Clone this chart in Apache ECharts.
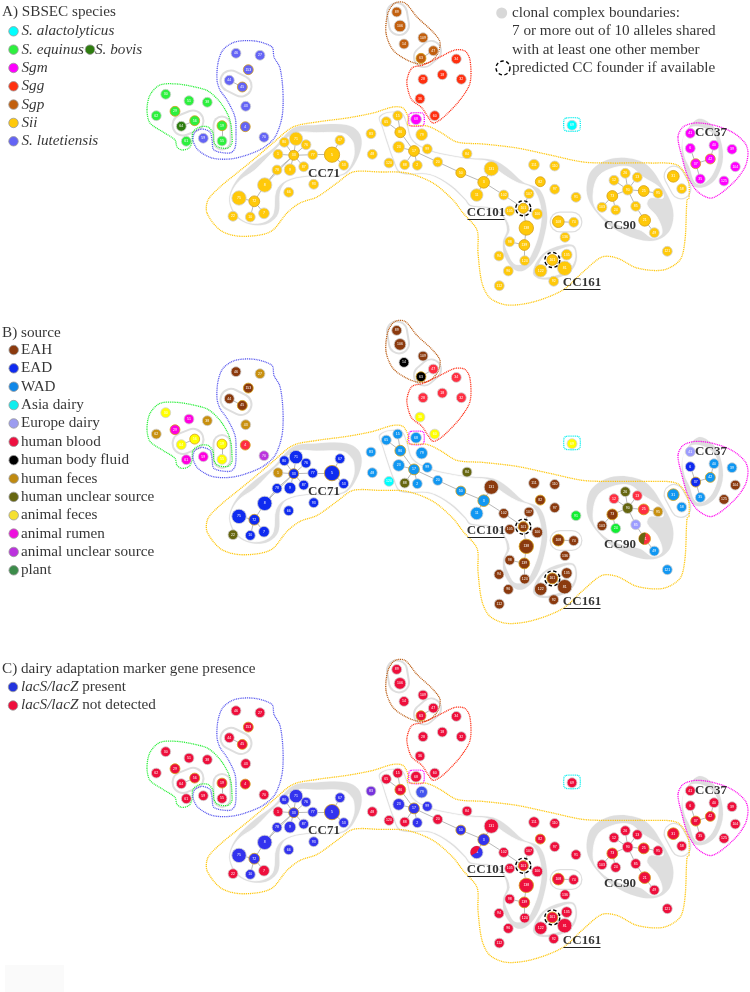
<!DOCTYPE html>
<html><head><meta charset="utf-8">
<style>html,body{margin:0;padding:0;background:#fff}#c{width:750px;height:992px}</style>
<script src="https://cdn.jsdelivr.net/npm/echarts@6/dist/echarts.min.js"></script></head>
<body><div id="c"></div>
<script>
// ---------- data ----------
const nodeIds=[30,51,38,62,29,56,64,19,61,55,
46,27,153,44,45,43,4,70,59,
89,106,14,109,47,63,
34,18,28,32,36,60,
68,
80,71,76,1,33,77,5,67,53,87,9,78,8,93,66,75,72,7,22,10,
83,48,65,15,86,79,23,17,99,120,88,2,20,50,84,
131,3,11,102,111,110,82,97,91,107,105,101,100,108,74,138,98,139,136,135,161,122,81,124,94,96,112,92,
12,26,13,90,25,95,73,103,24,85,21,49,
31,58,121,
41,6,40,39,37,42,35,104,125,
69];
const nodeX=[165.7,189,207.3,156.3,175,194.7,181.3,222,186.3,222,
236,260,248.3,229.3,242.3,245.7,245.3,264,203.3,
396.7,400,404,423,433.3,421,
456.3,442.3,423,461.3,420,434.7,
416,
284.3,296,306,278,293.7,312.7,332,340,343.7,303.7,290,277,264.7,313.7,288.7,239,254.3,264,233,250.3,
371,372.3,386.3,397.7,400.3,421.7,398.7,414,427.3,389,404.7,417.3,437.7,460.8,467,
491.3,483.7,476.7,503.7,534,554.7,540.3,554.7,576,529,509.7,523.3,537.3,558.3,573.7,526.3,509.7,524.3,565,566.7,552.3,540.7,564.7,524.7,499,508.3,499.3,553.7,
614,625.3,637.3,627.7,643.7,658,612.3,602,615.7,635.7,644.7,654.3,
673.3,681.7,667.3,
690.3,690.3,714,732,695.7,710.3,700.3,735.3,724,
572];
const nodeY=[94.3,100.7,102.3,115.7,111.3,120.7,126.3,125.7,141.3,141,
53.3,55.3,69.7,80.3,87,106.3,126.7,137.3,138.3,
12,26,44,37.7,50.7,58.3,
59,74.7,79.3,79.3,98.7,115.7,
119.3,
142.3,138.7,144.7,154.3,155.3,154.7,154.7,140.3,165.3,166.7,169.7,170,185,184.3,192.3,198,201.3,213.3,216.3,217,
133.7,154.3,121.7,115.7,132.3,134.7,147,151,149,163,164.7,165.3,162,172.7,153.7,
168.7,182.3,195,195,164.7,166,181.7,189.3,197.3,193.7,211,208.3,214,221.7,222.3,228,241.7,245,237.3,254.7,260,270.7,268.3,260.7,256,271,285.7,281.3,
180.3,173.3,177.3,189.7,191,193.3,196,207.3,210,206.3,220.3,232.7,
176.3,188.7,251.3,
133.3,148.3,145.3,149.3,163.7,159,179,166.7,181,
125.3];
// isolate weight class per node
const nodeWeight=[1,1,1,1,1,1,1,1,1,1,
1,1,1,1,1,1,1,1,1,
1,3,1,1,1,1,
1,1,1,1,1,1,
2,
1,5,1,1,1,1,7,1,1,1,3,1,6,1,1,6,2,2,1,1,
1,1,1,1,2,3,3,2,1,1,1,1,1,1,1,
6,3,4,1,2,1,1,1,1,1,1,1,2,3,1,6,1,2,1,2,2,4,6,1,1,1,1,1,
1,1,1,2,2,1,2,1,1,1,3,1,
3,1,1,
1,1,1,1,1,1,1,1,1,
1];
const nodeSpecies=[1,1,1,1,1,1,2,1,1,1,
7,7,7,7,7,7,7,7,7,
5,5,5,5,5,5,
4,4,4,4,4,4,
3,
6,6,6,6,6,6,6,6,6,6,6,6,6,6,6,6,6,6,6,6,
6,6,6,6,6,6,6,6,6,6,6,6,6,6,6,
6,6,6,6,6,6,6,6,6,6,6,6,6,6,6,6,6,6,6,6,6,6,6,6,6,6,6,6,
6,6,6,6,6,6,6,6,6,6,6,6,
6,6,6,
3,3,3,3,3,3,3,3,3,
0];
const nodeSource=[9,10,7,7,10,9,9,9,10,9,
0,7,0,0,0,7,5,11,10,
0,0,6,0,5,6,
5,5,5,5,9,9,
2,
1,1,1,7,1,1,1,1,1,1,1,1,1,1,1,1,1,1,8,1,
2,2,2,2,2,2,2,2,2,3,8,2,2,2,8,
0,2,2,0,0,0,0,0,12,0,0,0,0,0,0,0,0,0,0,0,0,0,0,0,0,0,0,0,
5,8,5,8,5,7,0,0,12,4,5,2,
2,2,2,
4,1,2,2,1,2,2,0,0,
9];
const nodeMarker=[0,0,0,0,0,0,0,0,0,0,
0,0,0,0,0,0,0,0,0,
0,0,0,0,0,0,
0,0,0,0,0,0,
0,
1,1,1,0,1,1,1,1,1,1,1,1,1,1,1,1,1,0,0,1,
2,0,0,0,0,3,1,1,1,0,0,1,0,1,0,
0,1,1,0,0,0,0,0,0,0,0,0,0,0,0,0,0,0,0,0,0,0,0,0,0,0,0,0,
0,0,0,0,0,0,0,0,0,0,0,0,
0,0,0,
0,0,0,0,0,0,0,0,0,
0];
const goldRing=[29,56,19,153,45,4,63,33,5,72,86,17,50,3,101,138,139,108,82,73,25,161,31,37,42,21];
const edges=[[64,56],[19,55],[44,45],[47,63],
[33,80],[33,71],[33,76],[33,1],[33,77],[33,87],[33,9],[33,78],[33,8],[78,8],[77,5],[5,67],[5,53],[8,72],[72,75],[72,10],[72,7],
[65,86],[15,86],[86,17],[23,17],[17,88],[17,2],[17,20],[20,50],[50,3],[3,131],[3,11],[3,102],[102,101],[107,101],[105,101],[100,101],[101,138],[138,139],[98,139],[139,124],[108,74],
[161,135],[161,122],[161,81],
[90,12],[90,26],[90,13],[90,25],[25,95],[90,73],[73,103],[73,24],[90,85],[85,21],[21,49],
[6,37],[37,42],[42,40],[37,35]];
const founders=[101,161];
const speciesLabels=['{i|S. alactolyticus}','{i|S. equinus}','{i|Sgm}','{i|Sgg}','{i|Sgp}','{i|Sii}','{i|S. lutetiensis}'];
const speciesLegendIdx=[0,1,3,4,5,6,7];
const speciesColors=['#00FFFF','#2DF03E','#2E7D0F','#FF00FF','#FF3010','#C2600F','#FFC90A','#6464F5'];
const sourceLabels=['EAH','EAD','WAD','Asia dairy','Europe dairy','human blood','human body fluid','human feces','human unclear source','animal feces','animal rumen','animal unclear source','plant'];
const sourceColors=['#8B3A0E','#0F2BF0','#1197F2','#00FFFF','#9C9CFF','#FF2F42','#000000','#C8900F','#666610','#FFFF00','#FF00E0','#BB33DD','#11EE33'];
const sourceLegendColors=['#8B3A0E','#0F2BF0','#1188E8','#11EEEE','#9C9CF0','#EE1040','#000000','#C08A10','#666610','#F5E030','#EE10DD','#BB33DD','#3C8C4A'];
const markerLabels=['{i|lacS/lacZ}{n| present}','{i|lacS/lacZ}{n| not detected}'];
const markerColors=['#EE0F3C','#3333EE','#7733DD','#4455EE'];
const markerLegendColors=['#2233DD','#EE0F3C'];
const panelTitles=['A) SBSEC species','B) source','C) dairy adaptation marker gene presence'];
const ccNames=['CC71','CC101','CC90','CC161','CC37'];
const ccPos=[[324,173.5],[486,212.5],[620,226],[582,283],[711,133]];
const ccUnderlines=[[[467.5,219],[504.5,219]],[[563.5,289.5],[600.5,289.5]]];
const noteLines=['clonal complex boundaries:','7 or more out of 10 alleles shared','with at least one other member','predicted CC founder if available'];
// hulls around each species
const hulls=[
{c:'#22EE33',p:[[147,110],[150,95],[160,85],[177,84],[195,87],[208,91],[220,102],[228,115],[231,125],[232,137],[232,143],[228,148],[218,147],[214,142],[213,133],[208,127],[200,127],[193,132],[192,142],[189,148],[182,150],[177,147],[175,140],[163,132],[150,123]]},
{c:'#5555EE',p:[[217,80],[218,63],[223,50],[235,42],[255,41],[272,47],[274,57],[280,68],[283,93],[282,117],[275,137],[263,148],[247,155],[230,159],[212,158],[198,150],[193,140],[195,132],[202,129],[210,132],[212,140],[214,150],[230,153],[235,148],[236,133],[235,117],[227,100],[220,90]]},
{c:'#B8560A',p:[[386,33],[388,13],[395,3],[405,3],[417,17],[433,32],[440,42],[438,53],[430,62],[420,64],[407,60],[393,50]]},
{c:'#FF2A10',p:[[407,80],[412,68],[423,65],[440,57],[455,50],[465,51],[470,60],[470,83],[460,100],[447,114],[440,120],[433,123],[428,117],[422,108],[412,100],[408,90]]},
{c:'#FF00FF',p:[[411,113],[422,113],[424,115],[424,124],[422,126],[411,126],[409,124],[409,115]]},
{c:'#00EEEE',p:[[566,118],[578,118],[580,120],[580,129],[578,131],[566,131],[564,129],[564,120]]},
{c:'#FF00EE',p:[[678,137],[683,127],[695,123],[713,125],[732,132],[745,143],[748,153],[745,167],[733,183],[712,198],[698,192],[688,177],[682,157]]},
{c:'#FFC400',p:[[207,213],[208,200],[220,187],[237,173],[253,160],[273,143],[293,127],[317,122],[347,118],[373,113],[393,107],[403,108],[408,117],[408,125],[427,126],[440,132],[457,142],[483,144],[517,148],[550,155],[583,162],[610,163],[650,163],[677,165],[688,180],[689,198],[687,200],[685,240],[680,260],[663,270],[637,268],[617,258],[602,257],[583,272],[563,290],[533,302],[507,305],[490,298],[482,283],[478,253],[477,230],[463,213],[453,200],[433,183],[407,173],[380,172],[353,172],[337,183],[317,197],[300,203],[287,213],[273,230],[260,235],[237,236],[220,230]]}
];
// clonal complex outlines: grey outer, white inner
const ccBlobs=[
{o:[[229.3,196.7],[236.7,180],[253.3,163.3],[273.3,148.3],[293.3,128.3],[316.7,125],[346.7,125],[358.3,131.7],[361.7,143.3],[356.7,160],[346.7,173.3],[333.3,176.7],[306.7,176.7],[286.7,181.7],[280,191.7],[278.3,213.3],[268.3,223.3],[253.3,225],[240,220],[231.7,210]],
 i:[[230.7,196.7],[238.7,181.7],[255,170],[274.3,150.7],[295,133.3],[316.7,132.7],[343.3,133.3],[351.7,140],[354,146.7],[353.3,158.3],[345.7,171.7],[332.7,175.3],[306.7,175.3],[286,180.3],[276,190.7],[273.3,213.3],[266.7,220.7],[253.3,223.3],[241,218.7],[233,209]]},
{o:[[379,117],[388,112],[402,113],[407,123],[413,140],[430,150],[450,155],[470,158],[493,160],[507,168],[523,182],[540,190],[547,213],[545,233],[537,257],[525,270],[515,270],[505,257],[503,242],[507,230],[503,217],[493,209],[470,206],[465,200],[450,186],[430,175],[400,173],[393,160],[387,143],[382,127]],
 i:[[380.3,118],[388,113.2],[401,114.3],[405.7,123.5],[411.7,141],[429.5,151.3],[450,156.3],[470,159.5],[490,162],[500,172],[516,182],[533,189],[541,210],[539,233],[531,255],[525,263],[515,264],[509,255],[505,242],[510,230],[505,217],[493,207.7],[471,204.7],[466,199],[451,184.7],[430,173.7],[401,171.7],[394.3,159.5],[388.3,142.5],[383.3,127]]},
{o:[[587,183],[592,170],[607,160],[627,158],[647,165],[663,187],[673,210],[670,230],[657,240],[637,239],[613,228],[597,213],[588,198]],
 i:[[593,197],[598,177],[613,168],[630,167],[643,177],[660,188],[663,198],[650,198],[647,205],[657,217],[662,233],[653,238],[640,230],[613,223],[597,210]]},
{o:[[533,273],[540,257],[553,248],[573,245],[577,257],[572,270],[557,278],[540,279]],
 i:[[537,272],[545,255],[556,251],[572,247],[575,257],[570,268],[556,275],[541,277]]},
{o:[[682,143],[687,130],[698,119],[708,122],[718,133],[723,157],[717,177],[707,186],[695,187],[688,177],[683,160]],
 i:[[683,140],[690,128],[703,128],[715,137],[718,157],[712,175],[702,184],[695,182],[690,168],[685,157]]}
];
const capsules=[[183,125,193,121,23,19],[222,125,222,141,19,15],[231,81,241,86,23,19],[397,13,399,25,22,18],[424,57,431,51,22,18.5],[560,222,572,222,21,18.5],[674,176,681,189,21,18.5]];
const panelShift=[0,318.4,657.4];
const pieOverlays=[{panel:1,id:21,color:'#666610',a:100,b:280},{panel:2,id:11,color:'#EE0F3C',a:150,b:300}];
const faintBox=[[5,965],[64,992]];

// ---------- build ----------
const F='"Liberation Serif",serif';
const nodeIdx={};nodeIds.forEach((d,i)=>nodeIdx[d]=i);
const rad=i=>4.5+0.45*nodeWeight[i];
const colorFns=[i=>speciesColors[nodeSpecies[i]],i=>sourceColors[nodeSource[i]],i=>markerColors[nodeMarker[i]]];
const series=[];
const ax=k=>({xAxisIndex:k,yAxisIndex:k});
function polySeries(k,list,fill,stroke,lw,z){
  series.push({type:'custom',...ax(k),silent:true,clip:false,z,
    data:list.map(p=>p[0]),
    renderItem(params,api){
      const item=list[params.dataIndex];
      return {type:'polygon',shape:{points:item.map(q=>api.coord(q)),smooth:0.35},style:{fill:fill,stroke:stroke,lineWidth:lw}};
    }});
}
for(let k=0;k<3;k++){
  polySeries(k,ccBlobs.map(b=>b.o),'#DEDEDE','#DEDEDE',0.2,1);
  polySeries(k,ccBlobs.map(b=>b.i),'#fff','#fff',0.8,2);
  series.push({type:'custom',...ax(k),silent:true,clip:false,z:3,data:capsules.map(c=>[c[0],c[1]]),
    renderItem(params,api){
      const c=capsules[params.dataIndex],a=api.coord([c[0],c[1]]),b=api.coord([c[2],c[3]]);
      const sh={x1:a[0],y1:a[1],x2:b[0],y2:b[1]};
      return {type:'group',children:[
        {type:'line',shape:sh,style:{stroke:'#DEDEDE',lineWidth:c[4],lineCap:'round'}},
        {type:'line',shape:sh,style:{stroke:'#fff',lineWidth:c[5],lineCap:'round'}}]};
    }});
  series.push({type:'custom',...ax(k),silent:true,clip:false,z:4,data:hulls.map(h=>h.p[0]),
    renderItem(params,api){
      const h=hulls[params.dataIndex];
      return {type:'polygon',shape:{points:h.p.map(q=>api.coord(q)),smooth:0.3},
        style:{fill:'none',stroke:h.c,lineWidth:1.3,lineDash:[1,0.8]}};
    }});
  series.push({type:'lines',coordinateSystem:'cartesian2d',...ax(k),silent:true,z:5,
    lineStyle:{color:'#999',width:0.7,opacity:1},
    data:edges.map(e=>({coords:[[nodeX[nodeIdx[e[0]]],nodeY[nodeIdx[e[0]]]],[nodeX[nodeIdx[e[1]]],nodeY[nodeIdx[e[1]]]]]}))});
  series.push({type:'scatter',...ax(k),silent:true,z:6,clip:false,
    data:nodeIds.map((id,i)=>({value:[nodeX[i],nodeY[i]],symbolSize:2*rad(i),
      itemStyle:{opacity:1,color:colorFns[k](i),borderColor:goldRing.includes(id)?'#D4A017':'#D2D2D2',borderWidth:0.8},
      label:{show:true,formatter:String(id),position:'inside',fontSize:3.5,color:'#fff',fontFamily:'"Liberation Sans",sans-serif'}}))});
  series.push({type:'custom',...ax(k),silent:true,clip:false,z:7,
    data:pieOverlays.filter(p=>p.panel===k).map(p=>[nodeX[nodeIdx[p.id]],nodeY[nodeIdx[p.id]],p.id]),
    renderItem(params,api){
      const p=pieOverlays.filter(q=>q.panel===k)[params.dataIndex],i=nodeIdx[p.id],c=api.coord([nodeX[i],nodeY[i]]);
      return {type:'sector',shape:{cx:c[0],cy:c[1],r:rad(i),r0:0,startAngle:p.a*Math.PI/180,endAngle:p.b*Math.PI/180},style:{fill:p.color}};
    }});
  series.push({type:'scatter',...ax(k),silent:true,z:8,clip:false,symbolSize:15,
    itemStyle:{opacity:1,color:'rgba(0,0,0,0)',borderColor:'#000',borderWidth:1.4,borderType:[3.5,2.5]},
    data:founders.map(id=>[nodeX[nodeIdx[id]],nodeY[nodeIdx[id]]])});
  series.push({type:'scatter',...ax(k),silent:true,z:9,clip:false,symbolSize:0,
    data:ccNames.map((n,i)=>({value:ccPos[i],name:n})),
    label:{show:true,formatter:'{b}',position:'inside',fontFamily:F,fontWeight:'bold',fontSize:13,color:'#000'}});
  series.push({type:'lines',coordinateSystem:'cartesian2d',...ax(k),silent:true,z:9,
    lineStyle:{color:'#222',width:1,opacity:1},data:ccUnderlines.map(c=>({coords:c}))});
}
const FS=15.2;
const richText={i:{fontFamily:F,fontStyle:'italic',fontSize:FS,color:'#000'},n:{fontFamily:F,fontSize:FS,color:'#000'}};
function textSeries(rows){
  series.push({type:'scatter',...ax(0),silent:true,z:20,clip:false,symbolSize:0,
    data:rows.map(r=>({value:[r[0],r[1]],name:r[2]})),
    label:{show:true,position:'right',distance:0,formatter:p=>p.name,fontFamily:F,fontSize:FS,color:'#000',rich:richText}});
}
function dotSeries(rows){
  series.push({type:'scatter',...ax(0),silent:true,z:20,clip:false,symbolSize:9.5,
    data:rows.map(r=>({value:[r[0],r[1]],itemStyle:{opacity:1,color:r[2],borderColor:'#999',borderWidth:0.8}}))});
}
const yA=i=>31.3+18.33*i,yB=i=>350+18.36*i,yC=i=>687+18.5*i;
textSeries(panelTitles.map((t,i)=>[2,[12,332.7,669][i],t]));
textSeries(speciesLabels.map((t,i)=>[21.5,yA(i),t]).concat([[95,yA(1),'{i|S. bovis}']]));
dotSeries(speciesLegendIdx.map((s,i)=>[13.5,yA(i),speciesColors[s]]).concat([[90,yA(1),speciesColors[2]]]));
textSeries(sourceLabels.map((t,i)=>[21,yB(i),t]));
dotSeries(sourceLegendColors.map((c,i)=>[13.7,yB(i),c]));
textSeries(markerLabels.map((t,i)=>[21,yC(i),t]));
dotSeries(markerLegendColors.map((c,i)=>[13,yC(i),c]));
textSeries(noteLines.map((t,i)=>[512,13+18.4*i,t]));
series.push({type:'scatter',...ax(0),silent:true,z:20,symbolSize:11,itemStyle:{opacity:1,color:'#D8D8D8'},data:[[501.7,13]]});
series.push({type:'scatter',...ax(0),silent:true,z:20,symbolSize:14,
  itemStyle:{opacity:1,color:'rgba(0,0,0,0)',borderColor:'#000',borderWidth:1.4,borderType:[3.5,2.5]},data:[[503,68]]});
series.push({type:'custom',...ax(0),silent:true,clip:false,z:0,data:[faintBox[0]],
  renderItem(params,api){const a=api.coord(faintBox[0]),b=api.coord(faintBox[1]);
    return {type:'rect',shape:{x:a[0],y:a[1],width:b[0]-a[0],height:b[1]-a[1]},style:{fill:'#FAFAFA'}};}});

const grid=[0,1,2].map(()=>({left:0,right:0,top:0,bottom:0,containLabel:false}));
const xAxis=[0,1,2].map(k=>({type:'value',gridIndex:k,min:0,max:750,show:false}));
const yAxis=[0,1,2].map(k=>({type:'value',gridIndex:k,min:-panelShift[k],max:992-panelShift[k],inverse:true,show:false}));
const chart=echarts.init(document.getElementById('c'),null,{renderer:'canvas'});
chart.setOption({animation:false,backgroundColor:'#fff',tooltip:{show:false},grid,xAxis,yAxis,series});
</script></body></html>
